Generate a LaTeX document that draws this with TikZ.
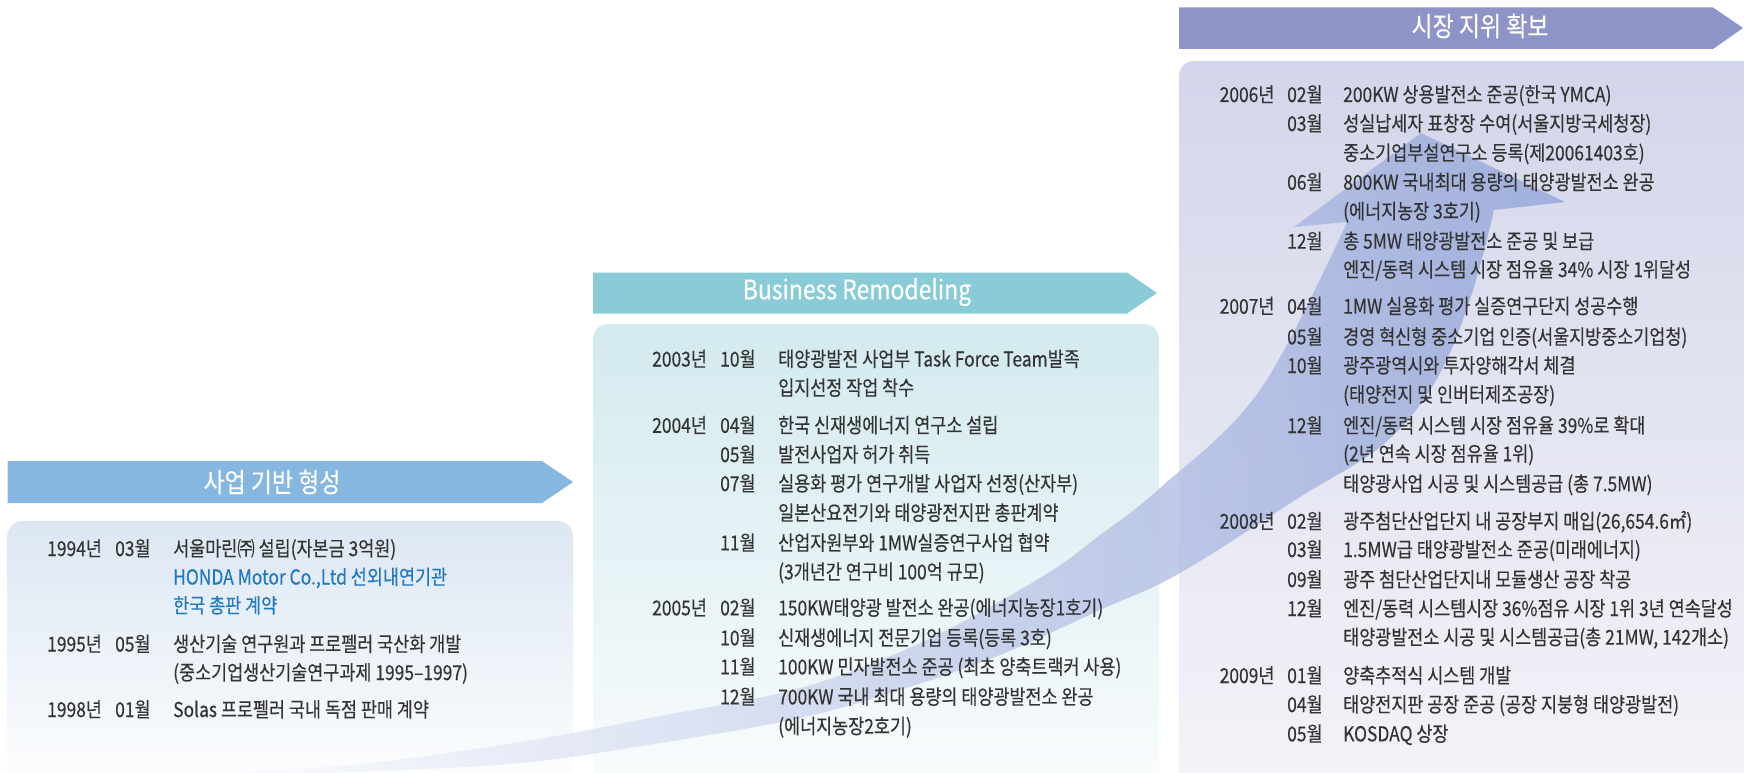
\documentclass[tikz,border=0pt]{standalone}
\usepackage{fontspec}
\setmainfont{Noto Sans CJK KR}[FakeStretch=0.85, FakeBold=0.25]
\definecolor{txtcol}{HTML}{333333}
\definecolor{bluetxt}{HTML}{1F78C1}
\definecolor{ban1}{HTML}{86B7E0}
\definecolor{ban2}{HTML}{89CBD6}
\definecolor{ban3}{HTML}{8C94C8}
\definecolor{box1top}{HTML}{DCE7F3}
\definecolor{box2top}{HTML}{D3EAEF}
\definecolor{box2bot}{HTML}{FAFCFD}
\definecolor{box3top}{HTML}{D3D6EA}
\definecolor{box3bot}{HTML}{F4F4F9}
\definecolor{arrowcol}{HTML}{94A6D9}
\newcommand\ent[4]{\node[txt] (#1) at ({#2},{#3+7}) {#4};}
\begin{document}
\begin{tikzpicture}[x=1pt,y=-1pt,
  txt/.style={anchor=base west, inner sep=0pt, text=txtcol, font=\fontsize{20.5}{21}\selectfont},
  ttl/.style={text=white, inner sep=0pt, font=\fontsize{27}{29}\selectfont},
  boxsty/.style={rounded corners=15pt}]
\useasboundingbox (0,0) rectangle (1744,773);
\clip (0,0) rectangle (1744,773);
% banners
\fill[ban1] (7.5,461) -- (542,461) -- (573,482) -- (542,503) -- (7.5,503) -- cycle;
\fill[ban2] (593,272.5) -- (1127,272.5) -- (1157,293) -- (1127,313.5) -- (593,313.5) -- cycle;
\fill[ban3] (1179,7.5) -- (1713,7.5) -- (1743,28) -- (1713,49) -- (1179,49) -- cycle;
\node[ttl] (h1) at (272,482) {사업 기반 형성};
\node[ttl] (h2) at (857,292) {Business Remodeling};
\node[ttl] (h3) at (1480,26) {시장 지위 확보};
% boxes
\shade[boxsty, top color=box1top, bottom color=white] (7.5,521) rectangle (573,800);
\shade[boxsty, top color=box2top, bottom color=box2bot] (593,324) rectangle (1159,800);
\shade[boxsty, top color=box3top, bottom color=box3bot] (1179,61) rectangle (1760,800);
% big arrow
\shade[left color=white, middle color=arrowcol!72, right color=arrowcol, fill opacity=0.82]
  plot[smooth,tension=0.6] coordinates {(170,776) (350,765) (520,742) (660,716) (800,688) (920,643) (1040,578) (1100,535) (1160,488) (1260,390) (1347,222)}
  -- (1294,227) -- (1421,133) -- (1565,202) -- (1494,210)
  -- plot[smooth,tension=0.6] coordinates {(1494,210) (1472,293) (1438,377) (1385,443) (1300,497) (1180,573) (1100,610) (1000,655) (900,690) (800,718) (660,743) (520,763) (350,772) (170,777)} -- cycle;
% box 1
\ent{a1y}{47}{549}{1994년}
\ent{a1m}{115}{549}{03월}
\ent{a1t}{173}{549}{서울마린㈜ 설립(자본금 3억원)}
\node[txt, text=bluetxt] (a2t) at (173,584.5) {HONDA Motor Co.,Ltd 선외내연기관};
\node[txt, text=bluetxt] (a3t) at (173,613) {한국 총판 계약};
\ent{a4y}{47}{644.5}{1995년}
\ent{a4m}{115}{644.5}{05월}
\ent{a4t}{173}{644.5}{생산기술 연구원과 프로펠러 국산화 개발}
\ent{a5t}{173}{673}{(중소기업생산기술연구과제 1995–1997)}
\ent{a6y}{47}{710}{1998년}
\ent{a6m}{115}{710}{01월}
\ent{a6t}{173}{710}{Solas 프로펠러 국내 독점 판매 계약}
% box 2
\ent{b1y}{652}{359.5}{2003년}
\ent{b1m}{720}{359.5}{10월}
\ent{b1t}{778}{359.5}{태양광발전 사업부 Task Force Team발족}
\ent{b2t}{778}{388.3}{입지선정 작업 착수}
\ent{b3y}{652}{425.8}{2004년}
\ent{b3m}{720}{425.8}{04월}
\ent{b3t}{778}{425.8}{한국 신재생에너지 연구소 설립}
\ent{b4m}{720}{455}{05월}
\ent{b4t}{778}{455}{발전사업자 허가 취득}
\ent{b5m}{720}{484}{07월}
\ent{b5t}{778}{484}{실용화 평가 연구개발 사업자 선정(산자부)}
\ent{b6t}{778}{513.3}{일본산요전기와 태양광전지판 총판계약}
\ent{b7m}{720}{543.3}{11월}
\ent{b7t}{778}{543.3}{산업자원부와 1MW실증연구사업 협약}
\ent{b8t}{778}{572.3}{(3개년간 연구비 100억 규모)}
\ent{b9y}{652}{608.3}{2005년}
\ent{b9m}{720}{608.3}{02월}
\ent{b9t}{778}{608.3}{150KW태양광 발전소 완공(에너지농장1호기)}
\ent{b10m}{720}{638.3}{10월}
\ent{b10t}{778}{638.3}{신재생에너지 전문기업 등록(등록 3호)}
\ent{b11m}{720}{667.3}{11월}
\ent{b11t}{778}{667.3}{100KW 민자발전소 준공 (최초 양축트랙커 사용)}
\ent{b12m}{720}{697.3}{12월}
\ent{b12t}{778}{697.3}{700KW 국내 최대 용량의 태양광발전소 완공}
\ent{b13t}{778}{726.7}{(에너지농장2호기)}
% box 3
\ent{c1y}{1219.5}{95}{2006년}
\ent{c1m}{1287}{95}{02월}
\ent{c1t}{1343}{95}{200KW 상용발전소 준공(한국 YMCA)}
\ent{c2m}{1287}{124}{03월}
\ent{c2t}{1343}{124}{성실납세자 표창장 수여(서울지방국세청장)}
\ent{c3t}{1343}{153.3}{중소기업부설연구소 등록(제20061403호)}
\ent{c4m}{1287}{182.7}{06월}
\ent{c4t}{1343}{182.7}{800KW 국내최대 용량의 태양광발전소 완공}
\ent{c5t}{1343}{211.7}{(에너지농장 3호기)}
\ent{c6m}{1287}{241.7}{12월}
\ent{c6t}{1343}{241.7}{총 5MW 태양광발전소 준공 및 보급}
\ent{c7t}{1343}{270}{엔진/동력 시스템 시장 점유율 34\% 시장 1위달성}
\ent{c8y}{1219.5}{306.7}{2007년}
\ent{c8m}{1287}{306.7}{04월}
\ent{c8t}{1343}{306.7}{1MW 실용화 평가 실증연구단지 성공수행}
\ent{c9m}{1287}{337.3}{05월}
\ent{c9t}{1343}{337.3}{경영 혁신형 중소기업 인증(서울지방중소기업청)}
\ent{c10m}{1287}{366}{10월}
\ent{c10t}{1343}{366}{광주광역시와 투자양해각서 체결}
\ent{c11t}{1343}{395}{(태양전지 및 인버터제조공장)}
\ent{c12m}{1287}{426}{12월}
\ent{c12t}{1343}{426}{엔진/동력 시스템 시장 점유율 39\%로 확대}
\ent{c13t}{1343}{454.3}{(2년 연속 시장 점유율 1위)}
\ent{c14t}{1343}{484.3}{태양광사업 시공 및 시스템공급 (총 7.5MW)}
\ent{c15y}{1219.5}{521.7}{2008년}
\ent{c15m}{1287}{521.7}{02월}
\ent{c15t}{1343}{521.7}{광주첨단산업단지 내 공장부지 매입(26,654.6㎡)}
\ent{c16m}{1287}{550}{03월}
\ent{c16t}{1343}{550}{1.5MW급 태양광발전소 준공(미래에너지)}
\ent{c17m}{1287}{580}{09월}
\ent{c17t}{1343}{580}{광주 첨단산업단지내 모듈생산 공장 착공}
\ent{c18m}{1287}{609}{12월}
\ent{c18t}{1343}{609}{엔진/동력 시스템시장 36\%점유 시장 1위 3년 연속달성}
\ent{c19t}{1343}{637.7}{태양광발전소 시공 및 시스템공급(총 21MW, 142개소)}
\ent{c20y}{1219.5}{676}{2009년}
\ent{c20m}{1287}{676}{01월}
\ent{c20t}{1343}{676}{양축추적식 시스템 개발}
\ent{c21m}{1287}{705}{04월}
\ent{c21t}{1343}{705}{태양전지판 공장 준공 (공장 지붕형 태양광발전)}
\ent{c22m}{1287}{734.3}{05월}
\ent{c22t}{1343}{734.3}{KOSDAQ 상장}
\end{tikzpicture}
\end{document}
